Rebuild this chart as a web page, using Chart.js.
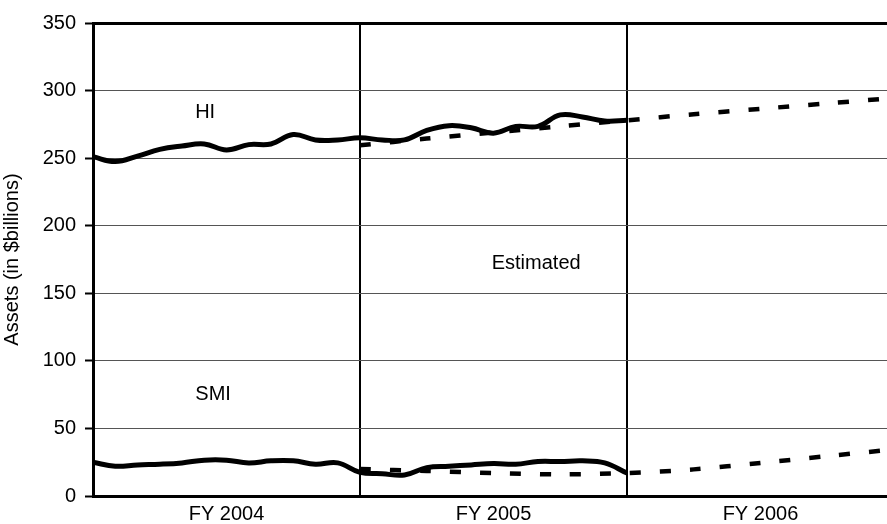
<!DOCTYPE html>
<html>
<head>
<meta charset="utf-8">
<script src="https://cdn.jsdelivr.net/npm/chart.js@4.4.1/dist/chart.umd.min.js"></script>
<style>
  html, body { margin: 0; padding: 0; background: #fff; overflow: hidden; }
  #wrap { width: 887px; height: 524px; position: relative; }
</style>
</head>
<body>
<div id="wrap"><canvas id="assets-chart"></canvas></div>
<script>
// Fiscal year sections along the x axis
const yearLabels = ["FY 2004", "FY 2005", "FY 2006"];
const xTicks = [0.5, 1, 1.5, 2, 2.5];
const yTicks = [0, 50, 100, 150, 200, 250, 300, 350];

// Actual assets, monthly from start of FY 2004 to end of FY 2005 ($billions)
const hiActual = [251, 247.5, 251.5, 256.5, 259, 260.5, 256, 260, 260.5, 267.5, 263.5, 263.5,
  265, 263.5, 263.5, 270.5, 274, 272.5, 268.5, 273.5, 273.5, 282, 280.5, 277.5, 278];
const smiActual = [25, 22, 23, 23.5, 24.5, 26.5, 26.5, 24.5, 26, 26, 23.5, 24.5,
  17.5, 16.5, 15.5, 21, 22, 23, 24, 23.5, 25.5, 25.5, 26, 24.5, 17];

// Estimated assets, quarterly from start of FY 2005 to end of FY 2006
const estimateYears = [1, 1.25, 1.5, 1.75, 2, 2.25, 2.5, 2.75, 3];
const hiEstimate = [259.5, 264.5, 269, 273.5, 278, 282.5, 286.5, 290.5, 294.5];
const smiEstimate = [20, 18.5, 17, 16, 17, 19.7, 24.5, 29.5, 34.5];

const FONT = "'Liberation Sans', Arial, sans-serif";

const toPoints = (xs, ys) => ys.map((y, i) => ({ x: xs[i], y: y }));
const monthly = (ys) => ys.map((y, i) => ({ x: i / 12, y: y }));

// Text labels placed at data coordinates
const notes = [
  { text: "HI", x: 0.42, y: 284 },
  { text: "SMI", x: 0.45, y: 75 },
  { text: "Estimated", x: 1.66, y: 172 },
];

const notesPlugin = {
  id: "notes",
  afterDatasetsDraw(chart) {
    const { ctx, scales } = chart;
    ctx.save();
    ctx.fillStyle = "#000";
    ctx.font = `20px ${FONT}`;
    ctx.textAlign = "center";
    ctx.textBaseline = "middle";
    notes.forEach((n) => {
      ctx.fillText(n.text, scales.x.getPixelForValue(n.x), scales.y.getPixelForValue(n.y));
    });
    ctx.restore();
  },
};

const solid = { borderColor: "#000", borderWidth: 5, pointRadius: 0, tension: 0.4, fill: false };
const dashed = { borderColor: "#000", borderWidth: 4.5, pointRadius: 0, tension: 0.3, fill: false,
  borderDash: [11, 19], borderCapStyle: "butt" };

new Chart(document.getElementById("assets-chart"), {
  type: "line",
  data: {
    datasets: [
      { label: "HI estimated", data: toPoints(estimateYears, hiEstimate), ...dashed },
      { label: "SMI estimated", data: toPoints(estimateYears, smiEstimate), ...dashed },
      { label: "HI", data: monthly(hiActual), ...solid },
      { label: "SMI", data: monthly(smiActual), ...solid },
    ],
  },
  options: {
    responsive: true,
    maintainAspectRatio: false,
    animation: false,
    layout: { padding: { top: 23, right: 0, bottom: 0, left: 0 } },
    plugins: { legend: { display: false }, tooltip: { enabled: false } },
    scales: {
      x: {
        type: "linear",
        min: 0,
        max: 2.974,
        afterBuildTicks: (scale) => {
          scale.ticks = xTicks.map((v) => ({ value: v }));
        },
        afterFit: (scale) => {
          scale.height = 28;
        },
        border: { color: "#000", width: 3 },
        grid: {
          drawTicks: false,
          color: (c) => (Number.isInteger(c.tick.value) ? "#000" : "rgba(0,0,0,0)"),
          lineWidth: 2,
        },
        ticks: {
          autoSkip: false,
          maxRotation: 0,
          padding: 6,
          color: "#000",
          font: { family: FONT, size: 20 },
          callback: (v) => (Number.isInteger(v) ? "" : yearLabels[Math.floor(v)]),
        },
      },
      y: {
        min: 0,
        max: 350,
        afterBuildTicks: (scale) => {
          scale.ticks = yTicks.map((v) => ({ value: v }));
        },
        afterFit: (scale) => {
          scale.width = 93;
        },
        border: { color: "#000", width: 3 },
        grid: {
          color: (c) => (c.tick.value === 350 ? "#000" : c.tick.value === 0 ? "rgba(0,0,0,0)" : "#555"),
          lineWidth: (c) => (c.tick.value === 350 ? 3 : 1),
          tickColor: "#000",
          tickWidth: 2,
          tickLength: 8,
        },
        ticks: {
          padding: 9,
          color: "#000",
          font: { family: FONT, size: 20 },
        },
        title: {
          display: true,
          text: "Assets (in $billions)",
          color: "#000",
          font: { family: FONT, size: 20 },
          padding: { top: 0, bottom: 0 },
        },
      },
    },
  },
  plugins: [notesPlugin],
});
</script>
</body>
</html>
